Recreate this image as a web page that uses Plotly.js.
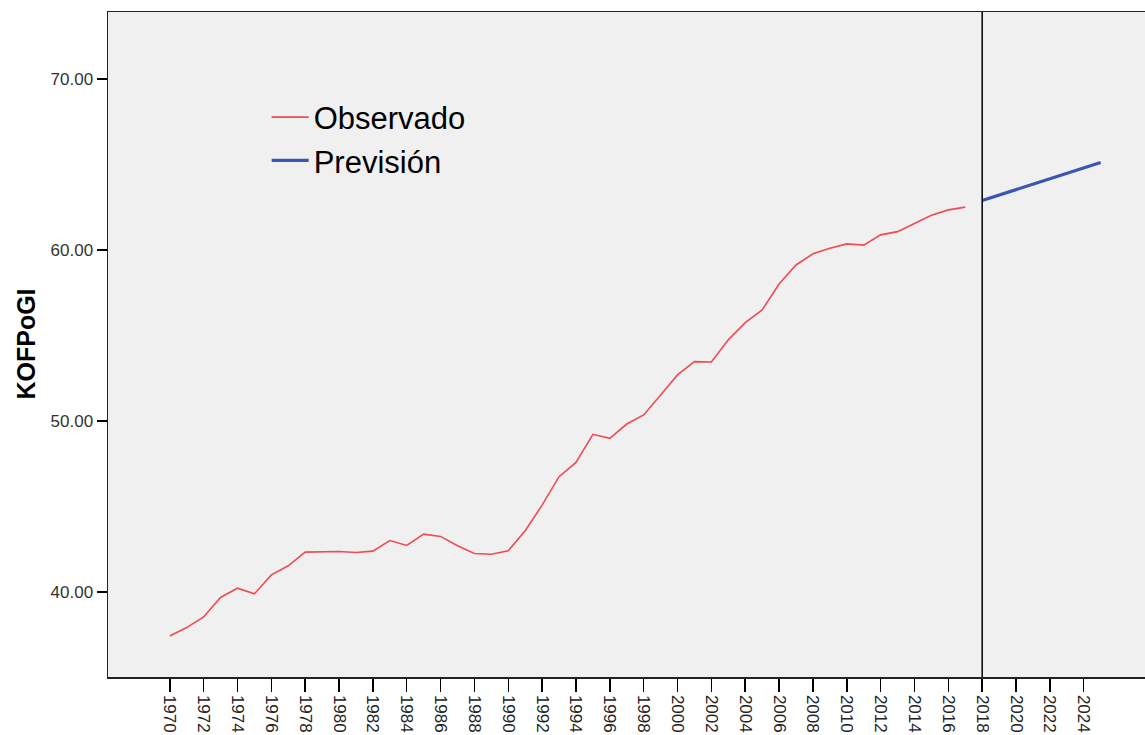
<!DOCTYPE html>
<html>
<head>
<meta charset="utf-8">
<script src="https://cdn.plot.ly/plotly-3.0.1.min.js"></script>
<style>
  html, body { margin: 0; padding: 0; background: #ffffff; overflow: hidden; }
  #chart { width: 1145px; height: 735px; }
</style>
</head>
<body>
<div id="chart"></div>
<script>
// Observed KOFPoGI values, 1970-2017
const OBS_YEARS = [];
for (let y = 1970; y <= 2017; ++y) OBS_YEARS.push(y);
const OBS_VALUES = [
  37.44, 37.93, 38.55, 39.69, 40.23, 39.90, 41.01, 41.54, 42.34, 42.34,
  42.38, 42.32, 42.40, 43.02, 42.73, 43.39, 43.26, 42.71, 42.26, 42.22,
  42.42, 43.59, 45.09, 46.75, 47.59, 49.23, 48.99, 49.83, 50.36, 51.53,
  52.70, 53.48, 53.46, 54.75, 55.76, 56.50, 58.02, 59.13, 59.78, 60.11,
  60.36, 60.29, 60.89, 61.08, 61.57, 62.04, 62.35, 62.51
];

// Forecast, 2018-2025
const FC_YEARS = [2018, 2019, 2020, 2021, 2022, 2023, 2024, 2025];
const FC_VALUES = [62.90, 63.22, 63.53, 63.85, 64.17, 64.48, 64.80, 65.12];

const X_TICKS = [];
for (let y = 1970; y <= 2024; y += 2) X_TICKS.push(y);
const Y_TICKS = [40, 50, 60, 70];

const FORECAST_START = 2018;

let traces = [
  {
    x: OBS_YEARS, y: OBS_VALUES, name: 'Observado', type: 'scatter', mode: 'lines',
    line: {color: '#f04a52', width: 1.6}
  },
  {
    x: FC_YEARS, y: FC_VALUES, name: 'Previsión', type: 'scatter', mode: 'lines',
    line: {color: '#3a55b4', width: 3.2}
  }
];

let layout = {
  width: 1145,
  height: 735,
  margin: {l: 108, r: 0, t: 12, b: 58},
  paper_bgcolor: '#ffffff',
  plot_bgcolor: '#f0f0f0',
  font: {family: 'Arial, "Liberation Sans", sans-serif', color: '#333333'},
  showlegend: true,
  legend: {
    x: 0.153, y: 0.882, xanchor: 'left', yanchor: 'top',
    bgcolor: 'rgba(0,0,0,0)',
    font: {size: 31, color: '#000000'},
    itemwidth: 37,
    traceorder: 'normal'
  },
  xaxis: {
    range: [1966.35, 2027.62],
    tickmode: 'array', tickvals: X_TICKS, ticktext: X_TICKS.map(String),
    tickangle: 90,
    ticks: 'outside', ticklen: 13, tickwidth: 1.5, tickcolor: '#000000',
    tickfont: {size: 17, color: '#222222'},
    showgrid: false, zeroline: false,
    showline: true, linecolor: '#222222', linewidth: 1.5, mirror: true
  },
  yaxis: {
    range: [35.04, 73.92],
    tickmode: 'array', tickvals: Y_TICKS, ticktext: Y_TICKS.map(v => v.toFixed(2)),
    ticks: 'outside', ticklen: 10, tickwidth: 1.5, tickcolor: '#000000',
    tickfont: {size: 17, color: '#333333'},
    showgrid: false, zeroline: false,
    showline: true, linecolor: '#222222', linewidth: 1.5, mirror: false
  },
  shapes: [
    {
      type: 'line', xref: 'x', yref: 'paper',
      x0: FORECAST_START, x1: FORECAST_START, y0: 0, y1: 1,
      line: {color: '#000000', width: 1.5}
    }
  ],
  annotations: [
    {
      text: '<b>KOFPoGI</b>', xref: 'paper', yref: 'paper',
      x: -0.08, y: 0.5, xanchor: 'center', yanchor: 'middle',
      textangle: -90, showarrow: false,
      font: {size: 25, color: '#000000'}
    }
  ]
};

Plotly.newPlot('chart', traces, layout, {displayModeBar: false, staticPlot: true});
</script>
</body>
</html>
